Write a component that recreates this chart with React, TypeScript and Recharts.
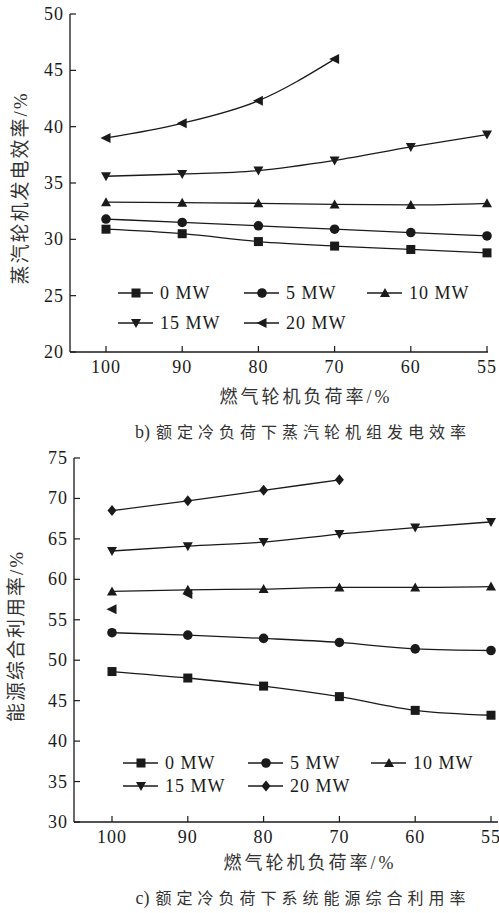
import React from "react";
import { LineChart, Line, XAxis, YAxis, Legend } from "recharts";

const loadRates = ["100", "90", "80", "70", "60", "55"];
const seriesNames = ["0 MW", "5 MW", "10 MW", "15 MW", "20 MW"];

// b) steam turbine generation efficiency, %
const steam0 = [30.9, 30.5, 29.8, 29.4, 29.1, 28.8];
const steam5 = [31.8, 31.5, 31.2, 30.9, 30.6, 30.3];
const steam10 = [33.3, 33.25, 33.2, 33.1, 33.05, 33.2];
const steam15 = [35.6, 35.8, 36.1, 37.0, 38.2, 39.3];
const steam20 = [39.0, 40.3, 42.3, 46.0, null, null];
const steamTicks = [20, 25, 30, 35, 40, 45, 50];

// c) overall energy utilisation, %
const util0 = [48.6, 47.8, 46.8, 45.5, 43.8, 43.2];
const util5 = [53.4, 53.1, 52.7, 52.2, 51.4, 51.2];
const util10 = [58.5, 58.7, 58.8, 59.0, 59.0, 59.1];
const util15 = [63.5, 64.1, 64.6, 65.6, 66.4, 67.1];
const util20 = [68.5, 69.7, 71.0, 72.3, null, null];
const utilStray = [56.3, 58.2, null, null, null, null];
const utilTicks = [30, 35, 40, 45, 50, 55, 60, 65, 70, 75];

const steamData = loadRates.map((rate, i) => ({
  rate,
  s0: steam0[i],
  s5: steam5[i],
  s10: steam10[i],
  s15: steam15[i],
  s20: steam20[i],
}));

const utilData = loadRates.map((rate, i) => ({
  rate,
  s0: util0[i],
  s5: util5[i],
  s10: util10[i],
  s15: util15[i],
  s20: util20[i],
  stray: utilStray[i],
}));

const INK = "#1a1a1a";
const NUM_FONT = '"Liberation Serif", "Times New Roman", serif';
const CJK_FONT = '"Liberation Serif", "Noto Sans CJK SC", serif';

type Shape = "square" | "circle" | "up" | "down" | "left" | "diamond";

function Marker({ cx, cy, shape }: { cx: number; cy: number; shape: Shape }) {
  const s = 4.5;
  if (shape === "square") {
    return <rect x={cx - s} y={cy - s} width={2 * s} height={2 * s} fill={INK} />;
  }
  if (shape === "circle") {
    return <circle cx={cx} cy={cy} r={s + 0.3} fill={INK} />;
  }
  let pts = "";
  if (shape === "up") pts = `${cx},${cy - s - 0.5} ${cx + s + 0.5},${cy + s - 0.5} ${cx - s - 0.5},${cy + s - 0.5}`;
  if (shape === "down") pts = `${cx},${cy + s + 0.5} ${cx + s + 0.5},${cy - s + 0.5} ${cx - s - 0.5},${cy - s + 0.5}`;
  if (shape === "left") pts = `${cx - s - 1},${cy} ${cx + s},${cy - s - 0.5} ${cx + s},${cy + s + 0.5}`;
  if (shape === "diamond") pts = `${cx},${cy - s - 1} ${cx + s},${cy} ${cx},${cy + s + 1} ${cx - s},${cy}`;
  return <polygon points={pts} fill={INK} />;
}

function dotOf(shape: Shape) {
  return (p: any) => {
    if (p.cx == null || p.cy == null || p.value == null) return <g key={`e${p.index}`} />;
    return <Marker key={`d${p.index}`} cx={p.cx} cy={p.cy} shape={shape} />;
  };
}

function YTick({ x, y, payload }: any) {
  return (
    <g>
      <line x1={x} x2={x + 6} y1={y} y2={y} stroke={INK} strokeWidth={1.2} />
      <text x={x - 6} y={y} dy={6} textAnchor="end" fill={INK} fontSize={18} fontFamily={NUM_FONT} letterSpacing={1}>
        {payload.value}
      </text>
    </g>
  );
}

function XTick({ x, y, payload }: any) {
  return (
    <g>
      <line x1={x} x2={x} y1={y} y2={y - 6} stroke={INK} strokeWidth={1.2} />
      <text x={x} y={y} dy={21} textAnchor="middle" fill={INK} fontSize={18} fontFamily={NUM_FONT} letterSpacing={1}>
        {payload.value}
      </text>
    </g>
  );
}

function makeLegend(shapes: Shape[], cols: number[], rows: number[]) {
  return (props: any) => {
    const items = (props.payload || [])
      .filter((e: any) => seriesNames.includes(e.value))
      .sort((a: any, b: any) => seriesNames.indexOf(a.value) - seriesNames.indexOf(b.value));
    return (
      <svg width={499} height={60} style={{ display: "block" }}>
        {items.map((e: any) => {
          const i = seriesNames.indexOf(e.value);
          const x = cols[i % 3];
          const y = rows[Math.floor(i / 3)];
          return (
            <g key={e.value}>
              <line x1={x} x2={x + 35} y1={y} y2={y} stroke={INK} strokeWidth={1.3} />
              <Marker cx={x + 18} cy={y} shape={shapes[i]} />
              <text x={x + 42} y={y} dy={6} fill={INK} fontSize={18} fontFamily={NUM_FONT} letterSpacing={1}>
                {e.value}
              </text>
            </g>
          );
        })}
      </svg>
    );
  };
}

const steamShapes: Shape[] = ["square", "circle", "up", "down", "left"];
const utilShapes: Shape[] = ["square", "circle", "up", "down", "diamond"];
const keys = ["s0", "s5", "s10", "s15", "s20"];

function Caption({ x, y, prefix, text, size, spacing, rotate }: any) {
  return (
    <div
      style={{
        position: "absolute",
        left: x,
        top: y,
        transform: `translate(-50%, -50%)${rotate ? " rotate(-90deg)" : ""}`,
        whiteSpace: "nowrap",
        fontFamily: CJK_FONT,
        fontSize: size,
        color: "#333",
        lineHeight: 1,
      }}
    >
      {prefix ? <span style={{ fontSize: size + 2, marginRight: 6 }}>{prefix}</span> : null}
      <span style={{ letterSpacing: spacing }}>{text}</span>
    </div>
  );
}

export default function App() {
  return (
    <div style={{ position: "relative", width: 499, height: 913, background: "#fff", overflow: "hidden" }}>
      <style>{`body{margin:0}`}</style>

      <div style={{ position: "absolute", left: 0, top: 0 }}>
        <LineChart width={499} height={440} data={steamData} margin={{ top: 14, right: 11, bottom: 58, left: 0 }}>
          <XAxis
            dataKey="rate"
            height={30}
            padding={{ left: 36, right: 1 }}
            axisLine={{ stroke: INK, strokeWidth: 1.3 }}
            tickLine={false}
            tickSize={0}
            tickMargin={0}
            tick={<XTick />}
            interval={0}
          />
          <YAxis
            width={70}
            domain={[20, 50]}
            ticks={steamTicks}
            axisLine={{ stroke: INK, strokeWidth: 1.3 }}
            tickLine={false}
            tickSize={0}
            tickMargin={0}
            tick={<YTick />}
            interval={0}
          />
          <Legend
            verticalAlign="middle"
            content={makeLegend(steamShapes, [118, 244, 367], [15, 45])}
            wrapperStyle={{ position: "absolute", left: 0, top: 278, width: 499 }}
          />
          {keys.map((k, i) => (
            <Line
              key={k}
              type="monotone"
              dataKey={k}
              name={seriesNames[i]}
              stroke={INK}
              strokeWidth={1.3}
              dot={dotOf(steamShapes[i])}
              activeDot={false}
              isAnimationActive={false}
            />
          ))}
        </LineChart>
      </div>

      <div style={{ position: "absolute", left: 0, top: 440 }}>
        <LineChart width={499} height={473} data={utilData} margin={{ top: 18, right: 1, bottom: 61, left: 0 }}>
          <XAxis
            dataKey="rate"
            height={30}
            padding={{ left: 38, right: 7 }}
            axisLine={{ stroke: INK, strokeWidth: 1.3 }}
            tickLine={false}
            tickSize={0}
            tickMargin={0}
            tick={<XTick />}
            interval={0}
          />
          <YAxis
            width={74}
            domain={[30, 75]}
            ticks={utilTicks}
            axisLine={{ stroke: INK, strokeWidth: 1.3 }}
            tickLine={false}
            tickSize={0}
            tickMargin={0}
            tick={<YTick />}
            interval={0}
          />
          <Legend
            verticalAlign="middle"
            content={makeLegend(utilShapes, [123, 248, 371], [15, 38])}
            wrapperStyle={{ position: "absolute", left: 0, top: 308, width: 499 }}
          />
          {keys.map((k, i) => (
            <Line
              key={k}
              type="monotone"
              dataKey={k}
              name={seriesNames[i]}
              stroke={INK}
              strokeWidth={1.3}
              dot={dotOf(utilShapes[i])}
              activeDot={false}
              isAnimationActive={false}
            />
          ))}
          <Line
            dataKey="stray"
            name="stray"
            stroke="none"
            legendType="none"
            dot={dotOf("left")}
            activeDot={false}
            isAnimationActive={false}
          />
        </LineChart>
      </div>

      <Caption x={20} y={188} text="蒸汽轮机发电效率/%" size={19} spacing={2} rotate />
      <Caption x={306} y={397} text="燃气轮机负荷率/%" size={18} spacing={3} />
      <Caption x={303} y={432} prefix="b)" text="额定冷负荷下蒸汽轮机组发电效率" size={16} spacing={5} />

      <Caption x={16} y={636} text="能源综合利用率/%" size={19} spacing={2} rotate />
      <Caption x={310} y={863} text="燃气轮机负荷率/%" size={18} spacing={3} />
      <Caption x={303} y={898} prefix="c)" text="额定冷负荷下系统能源综合利用率" size={16} spacing={5} />
    </div>
  );
}
